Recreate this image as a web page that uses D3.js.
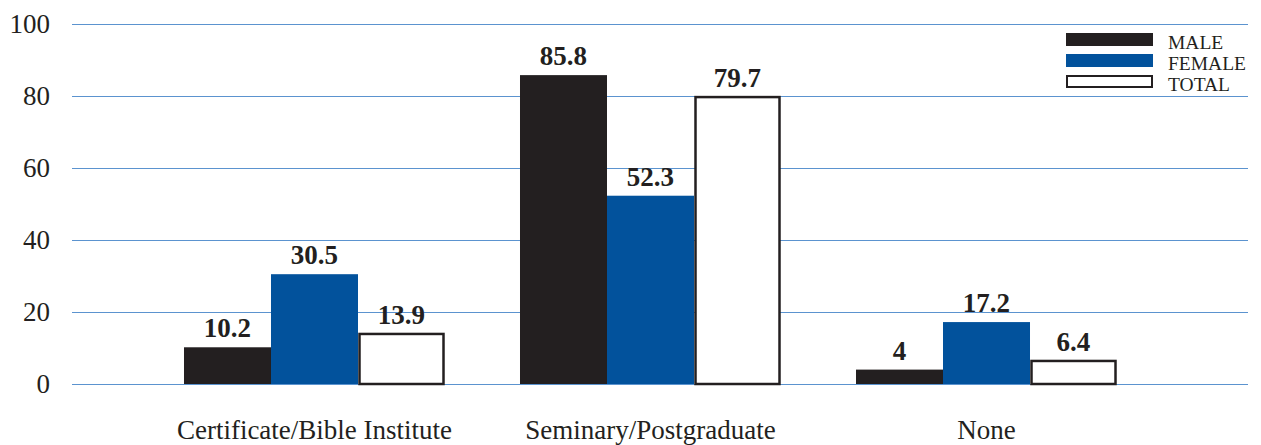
<!DOCTYPE html>
<html>
<head>
<meta charset="utf-8">
<script src="https://cdn.jsdelivr.net/npm/d3@7"></script>
<style>
  body { margin: 0; background: #fff; }
  text { font-family: "Liberation Serif", "Times New Roman", serif; }
</style>
</head>
<body>
<script>
const categories = ["Certificate/Bible Institute", "Seminary/Postgraduate", "None"];
const seriesKeys = ["MALE", "FEMALE", "TOTAL"];
const male = [10.2, 85.8, 4];
const female = [30.5, 52.3, 17.2];
const total = [13.9, 79.7, 6.4];
const yTicks = [0, 20, 40, 60, 80, 100];

const width = 1261;
const height = 445;
const gridLeft = 72;
const gridRight = 1248;

const values = { MALE: male, FEMALE: female, TOTAL: total };
const data = categories.map((c, i) => ({
  category: c,
  bars: seriesKeys.map(k => ({ key: k, value: values[k][i] }))
}));

const fills = { MALE: "#231f20", FEMALE: "#02529c", TOTAL: "#ffffff" };

const svg = d3.select("body")
  .append("svg")
    .attr("width", width)
    .attr("height", height)
    .attr("viewBox", [0, 0, width, height]);

const y = d3.scaleLinear()
    .domain([0, 100])
    .range([384, 24]);

const x = d3.scaleBand()
    .domain(categories)
    .range([109, 1192])
    .padding(0.2232);

const xs = d3.scaleBand()
    .domain(seriesKeys)
    .range([0, x.bandwidth()])
    .padding(0);

// Gridlines
svg.append("g")
  .selectAll("line")
  .data(yTicks)
  .join("line")
    .attr("x1", gridLeft)
    .attr("x2", gridRight)
    .attr("y1", d => y(d) + 0.5)
    .attr("y2", d => y(d) + 0.5)
    .attr("stroke", "#5b93cf")
    .attr("stroke-width", 1);

// Y tick labels
svg.append("g")
  .selectAll("text")
  .data(yTicks)
  .join("text")
    .attr("x", 50)
    .attr("y", d => y(d))
    .attr("dy", "0.33em")
    .attr("text-anchor", "end")
    .attr("font-size", 27)
    .attr("fill", "#231f20")
    .text(d => d);

// Bars
const groups = svg.append("g")
  .selectAll("g")
  .data(data)
  .join("g")
    .attr("transform", d => `translate(${x(d.category)},0)`);

groups.selectAll("rect")
  .data(d => d.bars)
  .join("rect")
    .attr("x", d => xs(d.key) + (d.key === "TOTAL" ? 1.5 : 0))
    .attr("y", d => y(d.value))
    .attr("width", d => xs.bandwidth() - (d.key === "TOTAL" ? 3 : 0))
    .attr("height", d => y(0) - y(d.value))
    .attr("fill", d => fills[d.key])
    .attr("stroke", d => d.key === "TOTAL" ? "#231f20" : "none")
    .attr("stroke-width", 2.5);

// Value labels
groups.selectAll("text")
  .data(d => d.bars)
  .join("text")
    .attr("x", d => xs(d.key) + xs.bandwidth() / 2)
    .attr("y", d => y(d.value) - 10)
    .attr("text-anchor", "middle")
    .attr("font-size", 27)
    .attr("font-weight", "bold")
    .attr("fill", "#231f20")
    .text(d => d.value);

// Category labels
svg.append("g")
  .selectAll("text")
  .data(categories)
  .join("text")
    .attr("x", d => x(d) + x.bandwidth() / 2)
    .attr("y", 439)
    .attr("text-anchor", "middle")
    .attr("font-size", 27)
    .attr("fill", "#231f20")
    .text(d => d);

// Legend
const legend = svg.append("g")
  .selectAll("g")
  .data(seriesKeys)
  .join("g")
    .attr("transform", (d, i) => `translate(1066,${33 + i * 21})`);

legend.append("rect")
    .attr("x", d => d === "TOTAL" ? 1 : 0)
    .attr("y", d => d === "TOTAL" ? 1 : 0)
    .attr("width", d => d === "TOTAL" ? 85 : 87)
    .attr("height", d => d === "TOTAL" ? 11 : 13)
    .attr("fill", d => fills[d])
    .attr("stroke", d => d === "TOTAL" ? "#231f20" : "none")
    .attr("stroke-width", 2);

legend.append("text")
    .attr("x", 102)
    .attr("y", 9)
    .attr("dy", "0.35em")
    .attr("font-size", 19.5)
    .attr("fill", "#231f20")
    .text(d => d);
</script>
</body>
</html>
